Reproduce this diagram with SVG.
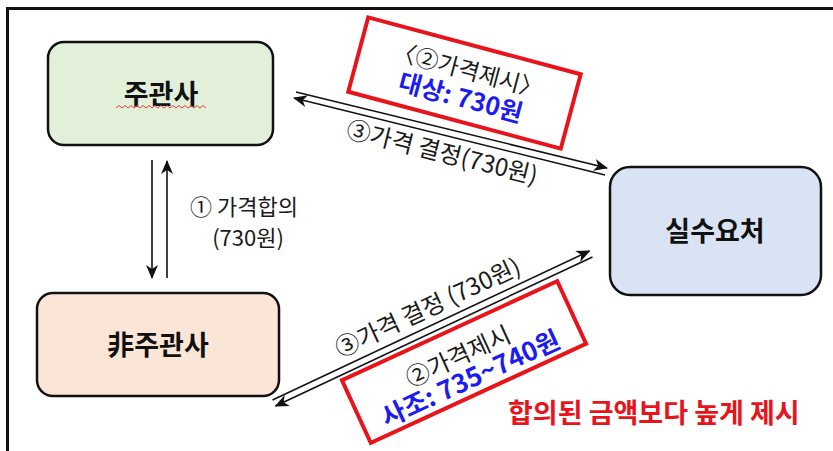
<svg xmlns="http://www.w3.org/2000/svg" width="833" height="451" viewBox="0 0 833 451">
<defs>
<style>
.frame{stroke:#111;stroke-width:3;fill:none}
.node{stroke:#111;stroke-width:2.5}
.ntext{font-family:"Noto Sans CJK KR","Noto Sans",sans-serif;font-weight:700;font-size:27px;fill:#111;text-anchor:middle}
.lbl{font-family:"Noto Sans CJK KR","Noto Sans",sans-serif;font-size:24px;fill:#1a1a1a;text-anchor:middle}
.blue{font-family:"Noto Sans CJK KR","Noto Sans",sans-serif;font-weight:700;font-size:25px;fill:#1c1cf0;text-anchor:middle}
.red{font-family:"Noto Sans CJK KR","Noto Sans",sans-serif;font-weight:700;font-size:27px;fill:#e8141b}
.rbox{stroke:#e8141b;stroke-width:4;fill:#fff}
.conn{stroke:#111;stroke-width:1.6;fill:none}
</style>
<marker id="ah" viewBox="0 0 14 12" refX="13" refY="6" markerWidth="14" markerHeight="12" markerUnits="userSpaceOnUse" orient="auto-start-reverse">
<path d="M0,0 L14,6 L0,12 L4,6 Z" fill="#111"/>
</marker>
</defs>
<rect width="833" height="451" fill="#fff"/>
<path class="frame" d="M7.5,451 V8.5 H833"/>

<g id="connectors">
<line class="conn" x1="152" y1="160" x2="152" y2="278" marker-end="url(#ah)"/>
<line class="conn" x1="167" y1="278" x2="167" y2="161" marker-end="url(#ah)"/>
<line class="conn" x1="296" y1="92" x2="607" y2="168" marker-end="url(#ah)"/>
<line class="conn" x1="294" y1="98" x2="605" y2="175" marker-start="url(#ah)"/>
<line class="conn" x1="272.5" y1="400" x2="589.5" y2="251" marker-end="url(#ah)"/>
<line class="conn" x1="275.5" y1="406" x2="592.5" y2="257" marker-start="url(#ah)"/>
</g>

<g id="node-jugwansa">
<rect class="node" x="48" y="42" width="225" height="103" rx="16" fill="#e2efd9"/>
<text class="ntext" x="161" y="104">주관사</text>
<path d="M116,108 l3,-2.5 l3,2.5 l3,-2.5 l3,2.5 l3,-2.5 l3,2.5 l3,-2.5 l3,2.5 l3,-2.5 l3,2.5 l3,-2.5 l3,2.5 l3,-2.5 l3,2.5 l3,-2.5 l3,2.5 l3,-2.5 l3,2.5 l3,-2.5 l3,2.5 l3,-2.5 l3,2.5 l3,-2.5 l3,2.5 l3,-2.5 l3,2.5 l3,-2.5 l3,2.5 l3,-2.5 l3,2.5" stroke="#e04040" stroke-width="1" fill="none"/>
</g>

<g id="node-bijugwansa">
<rect class="node" x="37" y="293" width="242" height="103" rx="16" fill="#fbe5d6"/>
<text class="ntext" x="158" y="355">非주관사</text>
</g>

<g id="node-silsuyocheo">
<rect class="node" x="610" y="167" width="211" height="128" rx="20" fill="#dae3f3"/>
<text class="ntext" x="715" y="241">실수요처</text>
</g>

<g id="label-agree">
<text class="lbl" x="244" y="215" style="font-size:22px">① 가격합의</text>
<text class="lbl" x="248" y="246" style="font-size:22px">(730원)</text>
</g>

<g id="label-top-decide" transform="translate(442,153) rotate(14)">
<text class="lbl" x="0" y="8">③가격 결정(730원)</text>
</g>

<g id="box-top" transform="translate(464.5,83) rotate(15)">
<rect class="rbox" x="-110" y="-38.5" width="220" height="77"/>
<text class="lbl" x="0" y="-5" style="font-size:23px">〈②가격제시〉</text>
<text class="blue" x="0" y="24">대상: 730원</text>
</g>

<g id="label-bottom-decide" transform="translate(428,308) rotate(-25)">
<text class="lbl" x="0" y="8">③가격 결정 (730원)</text>
</g>

<g id="box-bottom" transform="translate(464,362) rotate(-24.7)">
<rect class="rbox" x="-118.5" y="-34.5" width="237" height="69"/>
<text class="lbl" x="-3" y="1">②가격제시</text>
<text class="blue" x="-1" y="27" style="font-size:26px">사조: 735~740원</text>
</g>

<text id="note" class="red" x="508" y="423">합의된 금액보다 높게 제시</text>
</svg>
